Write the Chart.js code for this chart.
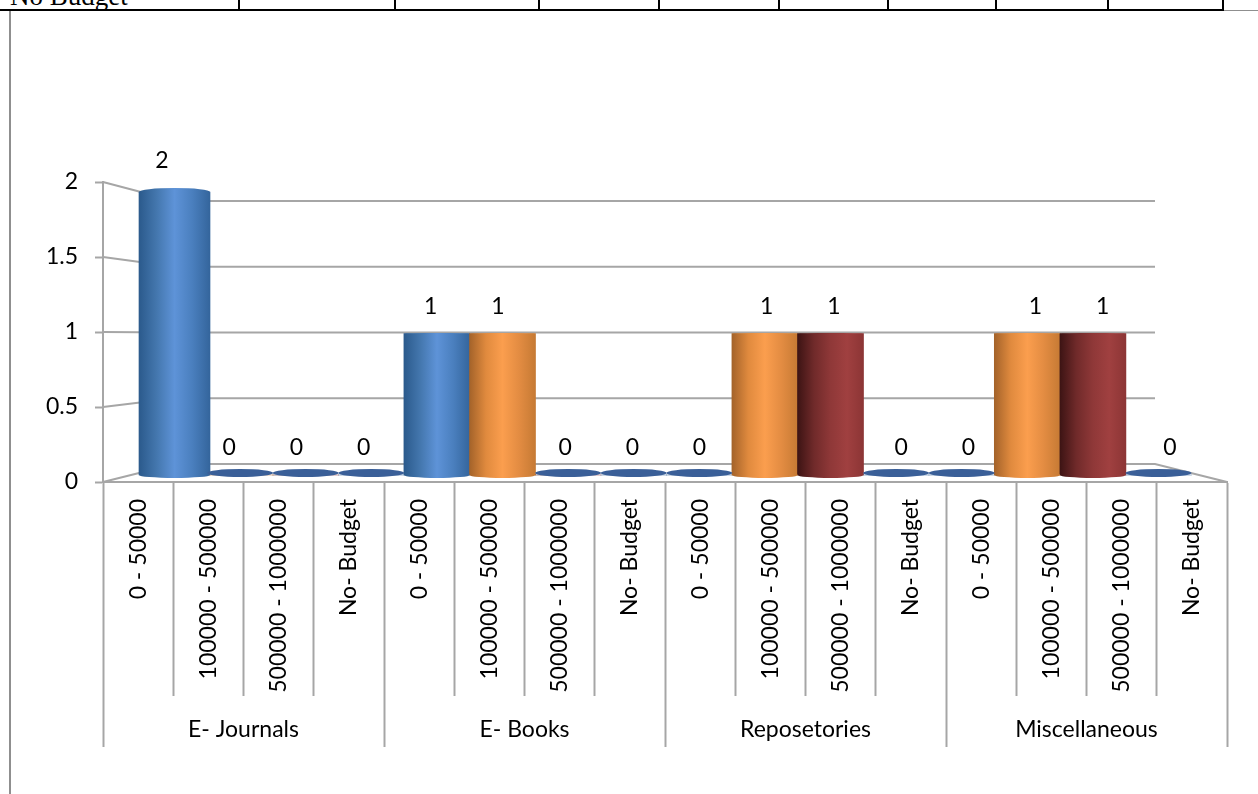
<!DOCTYPE html>
<html lang="en">
<head>
  <meta charset="UTF-8">
  <title>E-resources budget chart</title>
  <script src="https://cdn.jsdelivr.net/npm/chart.js"></script>
  <style>
    html, body {
      margin: 0;
      padding: 0;
      background: #fff;
      overflow: hidden;
    }
    /* last row of the table above the chart, cut off by the page top */
    .budget-row {
      position: absolute;
      left: 0;
      top: -23px;
      border-collapse: collapse;
      table-layout: fixed;
    }
    .budget-row td {
      height: 32px;
      padding: 6px 0 0 10px;
      box-sizing: border-box;
      border-right: 2px solid #000;
      border-bottom: 2px solid #000;
      font: 27px "Liberation Serif", serif;
      line-height: 26px;
      vertical-align: top;
      white-space: nowrap;
      overflow: hidden;
    }
    .frame-top {
      position: absolute;
      left: 9px;
      right: 0;
      top: 10px;
      height: 1px;
      background: #8f8f8f;
    }
    .frame-left {
      position: absolute;
      left: 9px;
      top: 10px;
      bottom: 0;
      width: 2px;
      background: #8f8f8f;
    }
    canvas {
      position: absolute;
      left: 0;
      top: 0;
    }
  </style>
</head>
<body>
  <div class="frame-top"></div>
  <div class="frame-left"></div>
  <table class="budget-row">
    <tr>
      <td style="width:239px">No Budget</td>
      <td style="width:156px"></td>
      <td style="width:144px"></td>
      <td style="width:120px"></td>
      <td style="width:120px"></td>
      <td style="width:109px"></td>
      <td style="width:108px"></td>
      <td style="width:112px"></td>
      <td style="width:115px"></td>
    </tr>
  </table>
  <canvas id="budgetChart" width="1258" height="794"></canvas>

  <script>
    // Chart data
    const resourceTypes = ['E- Journals', 'E- Books', 'Reposetories', 'Miscellaneous'];
    const budgetBands = [
      '0 - 50000', '100000 - 500000', '500000 - 1000000', 'No- Budget',
      '0 - 50000', '100000 - 500000', '500000 - 1000000', 'No- Budget',
      '0 - 50000', '100000 - 500000', '500000 - 1000000', 'No- Budget',
      '0 - 50000', '100000 - 500000', '500000 - 1000000', 'No- Budget'
    ];
    const counts = [2, 0, 0, 0, 1, 1, 0, 0, 0, 1, 1, 0, 0, 1, 1, 0];
    const valueTicks = [0, 0.5, 1, 1.5, 2];

    const textFont = { family: 'Lato, sans-serif', size: 23 };
    const axisGrey = '#a6a6a6';
    const wallDepth = 72; // how far the back wall sits inside the front edge

    // Cylinder shading, left to right
    const blueStops = ['#2b5a8c', '#4477ae', '#5e93d8', '#4a7fbe', '#34659c'];
    const shades = [
      blueStops,
      ['#a4632a', '#e08a3e', '#fb9e4e', '#e38c42', '#c67a34'],
      ['#3d1414', '#702a2a', '#8f3838', '#a04040', '#8c3535'],
      blueStops
    ];

    // The tall cylinder sits nearer the viewer, so it is a little wider
    function barWidth(value) {
      return value === 2 ? 71 : 66;
    }

    function cylinderGradient(chart, index) {
      const ctx = chart.ctx;
      const x = chart.scales.xBar.getPixelForValue(index);
      // options also get resolved before the scales have a size
      if (!Number.isFinite(x)) return blueStops[2];
      const half = barWidth(counts[index]) / 2;
      const g = ctx.createLinearGradient(x - half, 0, x + half, 0);
      shades[index % 4].forEach((c, i) => g.addColorStop(i / 4, c));
      return g;
    }

    // Ellipse height of a cylinder end, flattest near eye level
    function capHeight(value) {
      return Math.abs(value - 0.85) * 3.5;
    }

    // Back wall, floor and the slanted lines joining them to the front axis
    const wallPlugin = {
      id: 'wall',
      beforeDatasetsDraw(chart) {
        const { ctx, chartArea, scales } = chart;
        const left = chartArea.left + wallDepth;
        const right = chartArea.right - wallDepth;
        ctx.save();
        ctx.strokeStyle = axisGrey;
        ctx.lineWidth = 2;
        valueTicks.forEach(v => {
          const y = scales.yWall.getPixelForValue(v);
          ctx.beginPath();
          ctx.moveTo(chartArea.left, scales.y.getPixelForValue(v));
          ctx.lineTo(left, y);
          ctx.lineTo(right, y);
          if (v === 0) ctx.lineTo(chartArea.right, scales.y.getPixelForValue(0));
          ctx.stroke();
        });
        ctx.restore();
      }
    };

    // Cylinder ends, flat discs for the zero counts, and the value labels
    const cylinderPlugin = {
      id: 'cylinders',
      afterDatasetsUpdate(chart) {
        chart.getDatasetMeta(0).data.forEach((bar, i) => {
          bar.width = barWidth(counts[i]);
        });
      },
      afterDatasetsDraw(chart) {
        const { ctx, scales } = chart;
        const base = scales.yBar.getPixelForValue(0);
        ctx.save();
        chart.getDatasetMeta(0).data.forEach((bar, i) => {
          const value = counts[i];
          const rx = bar.width / 2;
          if (value === 0) {
            ctx.fillStyle = '#3a5f98';
            ctx.beginPath();
            ctx.ellipse(bar.x, base - 2, rx, 4, 0, 0, Math.PI * 2);
            ctx.fill();
          } else {
            ctx.fillStyle = cylinderGradient(chart, i);
            ctx.beginPath();
            ctx.ellipse(bar.x, base, rx, capHeight(0), 0, 0, Math.PI * 2);
            ctx.fill();
            ctx.beginPath();
            ctx.ellipse(bar.x, bar.y, rx, capHeight(value), 0, 0, Math.PI * 2);
            ctx.fill();
          }
        });

        ctx.fillStyle = '#000';
        ctx.font = `${textFont.size}px ${textFont.family}`;
        ctx.textAlign = 'center';
        ctx.textBaseline = 'middle';
        counts.forEach((value, i) => {
          const x = scales.xLabel.getPixelForValue(i);
          const y = scales.yBar.getPixelForValue(value) - (value === 2 ? 31 : 27);
          ctx.fillText(String(value), x, y);
        });
        ctx.restore();
      }
    };

    new Chart(document.getElementById('budgetChart'), {
      type: 'bar',
      data: {
        labels: budgetBands,
        datasets: [{
          data: counts.map((y, x) => ({ x, y })),
          xAxisID: 'xBar',
          yAxisID: 'yBar',
          barThickness: 66,
          backgroundColor: c => cylinderGradient(c.chart, c.dataIndex)
        }]
      },
      plugins: [wallPlugin, cylinderPlugin],
      options: {
        responsive: false,
        animation: false,
        layout: { padding: { left: 0, top: 182, right: 31, bottom: 47 } },
        plugins: { legend: { display: false }, tooltip: { enabled: false } },
        scales: {
          // front edge: budget bands, then resource types below them
          x: {
            type: 'category',
            position: 'bottom',
            offset: true,
            afterFit: s => { s.height = 214; },
            border: { color: axisGrey, width: 2 },
            grid: {
              offset: true,
              drawOnChartArea: false,
              tickLength: 214,
              tickWidth: 2,
              tickColor: axisGrey
            },
            ticks: {
              color: '#000',
              font: textFont,
              padding: -197,
              autoSkip: false,
              minRotation: 90,
              maxRotation: 90
            }
          },
          xGroup: {
            type: 'category',
            position: 'bottom',
            labels: resourceTypes,
            offset: true,
            afterFit: s => { s.height = 51; },
            border: { display: false },
            grid: {
              offset: true,
              drawOnChartArea: false,
              tickLength: 51,
              tickWidth: 2,
              tickColor: axisGrey
            },
            ticks: { color: '#000', font: textFont, padding: -31 }
          },
          y: {
            min: 0,
            max: 2,
            afterFit: s => { s.width = 103; },
            afterBuildTicks: s => { s.ticks = valueTicks.map(value => ({ value })); },
            border: { color: axisGrey, width: 2 },
            grid: {
              drawOnChartArea: false,
              tickLength: 8,
              tickWidth: 2,
              tickColor: axisGrey
            },
            ticks: { color: '#000', font: textFont, padding: 17, callback: v => String(v) }
          },
          // hidden scales for the depth planes: cylinders, value labels, back wall
          xBar: { type: 'linear', display: false, offset: false, min: -1.09, max: 16.044 },
          xLabel: { type: 'linear', display: false, offset: false, min: -0.878, max: 15.85 },
          yBar: { display: false, min: -0.0495, max: 2.0707 },
          yWall: { display: false, min: -0.137, max: 2.144 }
        }
      }
    });
  </script>
</body>
</html>
